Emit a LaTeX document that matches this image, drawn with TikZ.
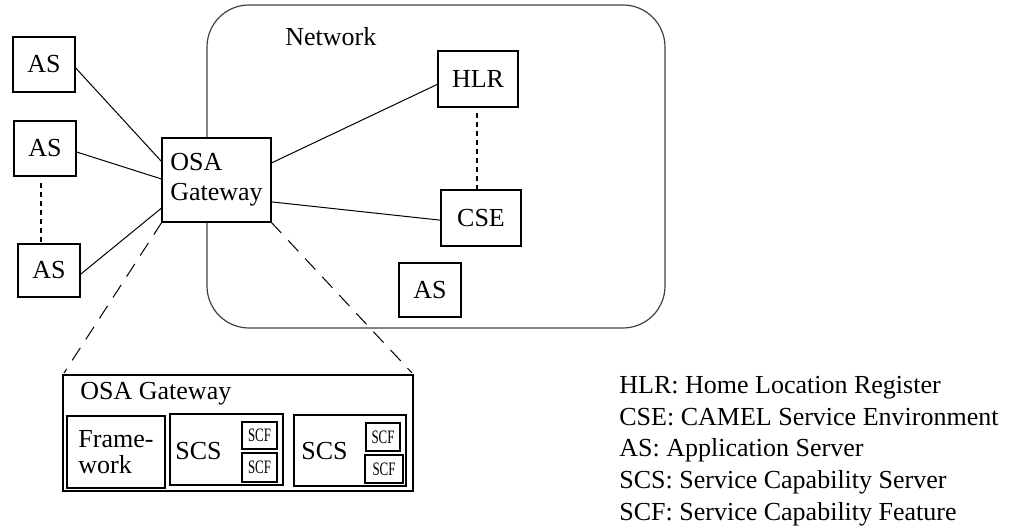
\documentclass[tikz,border=0pt]{standalone}
\usepackage{fontspec}
\usepackage{graphicx}
\setmainfont{Liberation Serif}
\usetikzlibrary{calc}
\begin{document}
\begin{tikzpicture}[x=0.5pt,y=-0.5pt,
  box/.style={draw, fill=white, line width=1pt, inner sep=0pt, outer sep=0pt,
    font=\fontsize{13}{15}\selectfont},
  scfbox/.style={box, font=\fontsize{9.5}{10}\selectfont},
  lbl/.style={inner sep=0pt, anchor=base west, font=\fontsize{13}{15}\selectfont},
  wire/.style={line width=0.5pt},
  zoomline/.style={line width=0.5pt, dash pattern=on 7.5pt off 5pt},
  dotline/.style={line width=1pt, dash pattern=on 2.5pt off 2pt},
  cloud/.style={draw=black!75, line width=0.6pt, rounded corners=21pt, inner sep=0pt}]
\useasboundingbox (0,0) rectangle (1018,528);

% operator network
\node[cloud, minimum width=229pt, minimum height=161.5pt] (net) at (436,166.5) {};
\node[lbl] (netlabel) at (285,46) {Network};

% zoom-out lines towards the detailed gateway
\node[box, minimum width=175pt, minimum height=58pt] (gw) at (238,433) {};
\node[box, minimum width=54.5pt, minimum height=42pt, align=left] (osa) at (216.5,180) {OSA\\Gateway};
\draw[zoomline] (osa.south west) -- ($(gw.north west)+(1,-2)$);
\draw[zoomline] (osa.south east) -- ($(gw.north east)+(-1,-2)$);

% application servers and network elements
\node[box, minimum width=31pt, minimum height=27.5pt] (as1) at (44,64.5) {AS};
\node[box, minimum width=31pt, minimum height=27.5pt] (as2) at (45,148.5) {AS};
\node[box, minimum width=31pt, minimum height=26.5pt] (as3) at (49,270.5) {AS};
\node[box, minimum width=40pt, minimum height=28pt] (hlr) at (478,79) {HLR};
\node[box, minimum width=40pt, minimum height=28pt] (cse) at (481,218) {CSE};
\node[box, minimum width=31pt, minimum height=27pt] (asn) at (430,290) {AS};

% links
\draw[wire] ($(as1.north east)!0.55!(as1.south east)$) -- ($(osa.north west)!0.286!(osa.south west)$);
\draw[wire] ($(as2.north east)!0.56!(as2.south east)$) -- ($(osa.north west)!0.49!(osa.south west)$);
\draw[wire] ($(as3.north east)!0.58!(as3.south east)$) -- ($(osa.north west)!0.83!(osa.south west)$);
\draw[wire] ($(osa.north east)!0.30!(osa.south east)$) -- ($(hlr.north west)!0.59!(hlr.south west)$);
\draw[wire] ($(osa.north east)!0.76!(osa.south east)$) -- ($(cse.north west)!0.54!(cse.south west)$);

% "more of the same" dotted links
\coordinate (asdots) at (41,183);
\coordinate (hlrdots) at (477,113);
\draw[dotline] (asdots) -- (asdots |- as3.north);
\draw[dotline] (hlrdots) -- (hlrdots |- cse.north);

% inside the gateway
\node[lbl] (gwlabel) at (80,400) {OSA Gateway};
\node[box, minimum width=49pt, minimum height=36pt, align=left,
  font=\fontsize{13}{13}\selectfont] (fw) at (116,452) {Frame-\\work};
\node[box, minimum width=56.5pt, minimum height=35.5pt] (scs1) at (226.5,449.5) {};
\node[lbl] (scs1t) at (175,460) {SCS};
\node[scfbox, minimum width=17.5pt, minimum height=13.5pt] (scf1a) at (259.5,435.5) {\scalebox{0.68}[1]{SCF}};
\node[scfbox, minimum width=17.5pt, minimum height=14.5pt] (scf1b) at (259.5,467.5) {\scalebox{0.68}[1]{SCF}};
\node[box, minimum width=56pt, minimum height=35.5pt] (scs2) at (350,450.5) {};
\node[lbl] (scs2t) at (301,460) {SCS};
\node[scfbox, minimum width=17pt, minimum height=14pt] (scf2a) at (383,437) {\scalebox{0.68}[1]{SCF}};
\node[scfbox, minimum width=19pt, minimum height=14pt] (scf2b) at (384,469) {\scalebox{0.68}[1]{SCF}};

% legend
\node[lbl] (leg1) at (619,394) {HLR: Home Location Register};
\node[lbl] (leg2) at (619,425.5) {CSE: CAMEL Service Environment};
\node[lbl] (leg3) at (619,457) {AS: Application Server};
\node[lbl] (leg4) at (619,489) {SCS: Service Capability Server};
\node[lbl] (leg5) at (619,520.5) {SCF: Service Capability Feature};
\end{tikzpicture}
\end{document}
